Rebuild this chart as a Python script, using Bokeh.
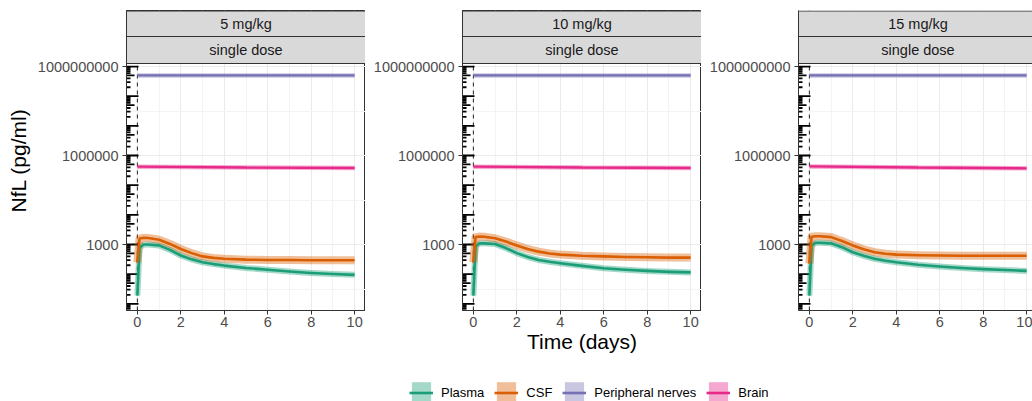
from bokeh.plotting import figure
from bokeh.layouts import row, column
from bokeh.models import (Range1d, FixedTicker, NumeralTickFormatter, Span,
                          Legend, LegendItem, LinearScale)
from bokeh.embed import file_html
from bokeh.resources import INLINE
from bokeh.core.properties import value

FONT = "Liberation Sans"

# ---------------- data ----------------
doses = ["5 mg/kg", "10 mg/kg", "15 mg/kg"]
regimen = "single dose"
series_names = ["Plasma", "CSF", "Peripheral nerves", "Brain"]
colors = ["#1B9E77", "#D95F02", "#7570B3", "#E7298A"]

time_days = [0, 0.1, 0.3, 0.5, 1, 1.5, 2, 2.5, 3, 3.5, 4, 5, 6, 7, 8, 9, 10]

plasma_5 = [19, 794, 1000, 1000, 933, 661, 427, 316, 251, 219, 195, 162, 141, 123, 110, 102, 95]
csf_5 = [251, 1585, 1698, 1660, 1445, 1047, 708, 513, 398, 355, 331, 309, 302, 302, 295, 295, 295]
plasma_10 = [19, 891, 1096, 1096, 1047, 759, 513, 380, 302, 263, 234, 191, 158, 141, 129, 120, 115]
csf_10 = [251, 1778, 1862, 1820, 1622, 1259, 933, 708, 575, 501, 457, 417, 398, 380, 372, 363, 363]
plasma_15 = [19, 933, 1148, 1148, 1096, 813, 550, 417, 331, 282, 251, 209, 182, 162, 148, 138, 129]
csf_15 = [229, 1820, 1905, 1905, 1778, 1318, 933, 692, 550, 490, 457, 437, 427, 417, 417, 417, 417]

tissue_time = [0, 5, 10]
nerves_5 = [5.0e8, 5.0e8, 5.0e8]
nerves_10 = [5.0e8, 5.0e8, 5.0e8]
nerves_15 = [5.0e8, 5.0e8, 5.0e8]
brain_5 = [4.2e5, 3.95e5, 3.8e5]
brain_10 = [4.2e5, 3.95e5, 3.8e5]
brain_15 = [4.3e5, 3.95e5, 3.7e5]

x_ticks = [0, 2, 4, 6, 8, 10]
x_minor = [1, 3, 5, 7, 9]
y_ticks = [1e3, 1e6, 1e9]
y_minor = [10 ** 1.5, 10 ** 4.5, 10 ** 7.5]

panels = [
    (plasma_5, csf_5, nerves_5, brain_5),
    (plasma_10, csf_10, nerves_10, brain_10),
    (plasma_15, csf_15, nerves_15, brain_15),
]

# ---------------- layout geometry ----------------
fig_widths = [365, 336, 331]
left_borders = [126, 97, 97]
x_ends = [10.5, 10.5, 10.27]
TOP_B = 10
STRIP_H = 53            # two strips, 27 + 26 px
PANEL_H = 247           # data panel height, px
FRAME_H = STRIP_H + PANEL_H
BOTTOM_B = 52
LOG_LO, LOG_HI = 0.776, 9.102
DEC_PER_PX = (LOG_HI - LOG_LO) / PANEL_H
Y_LO = 10 ** LOG_LO
Y_FRAME_TOP = 10 ** (LOG_HI + STRIP_H * DEC_PER_PX)

# log tick marks (annotation_logticks)
log_long = [10.0 ** k for k in range(0, 10)]
log_mid = [5 * 10.0 ** k for k in range(0, 9)]
log_short = [m * 10.0 ** k for k in range(0, 9) for m in (2, 3, 4, 6, 7, 8, 9)]


def panel_fig(i):
    w, lb = fig_widths[i], left_borders[i]
    p = figure(width=w, height=TOP_B + FRAME_H + BOTTOM_B, min_border_left=lb,
               min_border_right=0, min_border_top=TOP_B, min_border_bottom=BOTTOM_B,
               x_range=Range1d(-0.5, x_ends[i]), y_range=Range1d(Y_LO, Y_FRAME_TOP),
               y_axis_type="log", toolbar_location=None, output_backend="svg")
    p.extra_y_ranges = {"strip": Range1d(0, FRAME_H)}
    p.extra_y_scales = {"strip": LinearScale()}
    p.background_fill_color = "white"
    p.outline_line_color = "#333333" if i < 2 else None
    p.outline_line_width = 1

    p.xaxis.ticker = FixedTicker(ticks=x_ticks, minor_ticks=x_minor)
    p.yaxis.ticker = FixedTicker(ticks=y_ticks, minor_ticks=y_minor)
    p.yaxis.formatter = NumeralTickFormatter(format="0")
    for ax in (p.xaxis, p.yaxis):
        ax.axis_line_color = "#333333"
        ax.major_tick_line_color = "#333333"
        ax.major_tick_out = 4
        ax.major_tick_in = 0
        ax.minor_tick_line_color = None
        ax.major_label_text_font = FONT
        ax.major_label_text_font_size = "14.5px"
        ax.major_label_text_color = "#4D4D4D"
        ax.axis_label_text_font = FONT
        ax.axis_label_text_font_size = "21px"
        ax.axis_label_text_font_style = "normal"
        ax.axis_label_text_color = "black"
    p.yaxis.major_label_standoff = 4
    p.xaxis.major_label_standoff = 2
    if i == 0:
        p.yaxis.axis_label = "NfL (pg/ml)"
        p.yaxis.axis_label_standoff = 5
    if i == 1:
        p.xaxis.axis_label = "Time (days)"
        p.xaxis.axis_label_standoff = 0

    for g in (p.xgrid, p.ygrid):
        g.grid_line_color = "#EBEBEB"
        g.grid_line_width = 1
        g.minor_grid_line_color = "#F4F4F4"
        g.minor_grid_line_width = 1

    # dashed line at dosing time
    p.add_layout(Span(location=0, dimension="height", line_color="#222222",
                      line_width=1, line_dash="4 4", level="underlay"))

    # log ticks along the left edge
    for ys, ln in ((log_long, 12), (log_mid, 8), (log_short, 4)):
        p.ray(x=[-0.5] * len(ys), y=ys, length=ln, angle=0, length_units="screen",
              line_color="black", line_width=1.8)

    plasma, csf, nerves, brain = panels[i]
    # ribbons (wide translucent bands) then lines
    p.line(time_days, plasma, line_color=colors[0], line_alpha=0.4, line_width=6, line_join="round")
    p.line(time_days, csf, line_color=colors[1], line_alpha=0.4, line_width=8, line_join="round")
    p.line(tissue_time, nerves, line_color=colors[2], line_alpha=0.4, line_width=4.5)
    p.line(tissue_time, brain, line_color=colors[3], line_alpha=0.4, line_width=4.5)
    p.line(time_days, plasma, line_color=colors[0], line_width=2.6, line_join="round")
    p.line(time_days, csf, line_color=colors[1], line_width=2.6, line_join="round")
    p.line(tissue_time, nerves, line_color=colors[2], line_width=2.3)
    p.line(tissue_time, brain, line_color=colors[3], line_width=2.3)

    # facet strips (drawn last, on top, in px units of the "strip" range)
    right = x_ends[i] if i < 2 else x_ends[i] + 1
    p.quad(left=[-0.5, -0.5], right=[right, right],
           bottom=[PANEL_H + 27, PANEL_H], top=[FRAME_H - 0.5, PANEL_H + 27],
           y_range_name="strip", fill_color="#D9D9D9", line_color="#333333",
           line_width=1)
    xc = (-0.5 + 10.5) / 2
    p.text(x=[xc, xc], y=[PANEL_H + 40, PANEL_H + 13.5], text=[doses[i], regimen],
           y_range_name="strip", text_align="center", text_baseline="middle",
           text_font=value(FONT), text_font_size="14.5px", text_color="#1A1A1A")
    return p


plots = [panel_fig(i) for i in range(3)]

# ---------------- legend ----------------
LEG_H = 39
leg = figure(width=sum(fig_widths), height=LEG_H, min_border=0,
             x_range=Range1d(0, 1), y_range=Range1d(0, 1),
             x_axis_type=None, y_axis_type=None,
             toolbar_location=None, output_backend="svg")
leg.outline_line_color = None
leg.grid.visible = False
items = []
for name, c in zip(series_names, colors):
    q = leg.quad(left=[5], right=[6], bottom=[5], top=[6], fill_color=c,
                 fill_alpha=0.4, line_color=None)
    l = leg.line(x=[5, 6], y=[5, 5], line_color=c, line_width=2.6)
    items.append(LegendItem(label=name, renderers=[q, l]))
legend = Legend(items=items, orientation="horizontal", location=(409, -5),
                glyph_width=24, glyph_height=27, label_standoff=8, spacing=10,
                padding=0, margin=0, border_line_color=None,
                background_fill_alpha=0, label_text_font=FONT,
                label_text_font_size="13px", label_text_color="black")
leg.add_layout(legend)

layout = column(row(*plots, spacing=0), leg, spacing=0)

open("out.html", "w").write(file_html(layout, INLINE))
